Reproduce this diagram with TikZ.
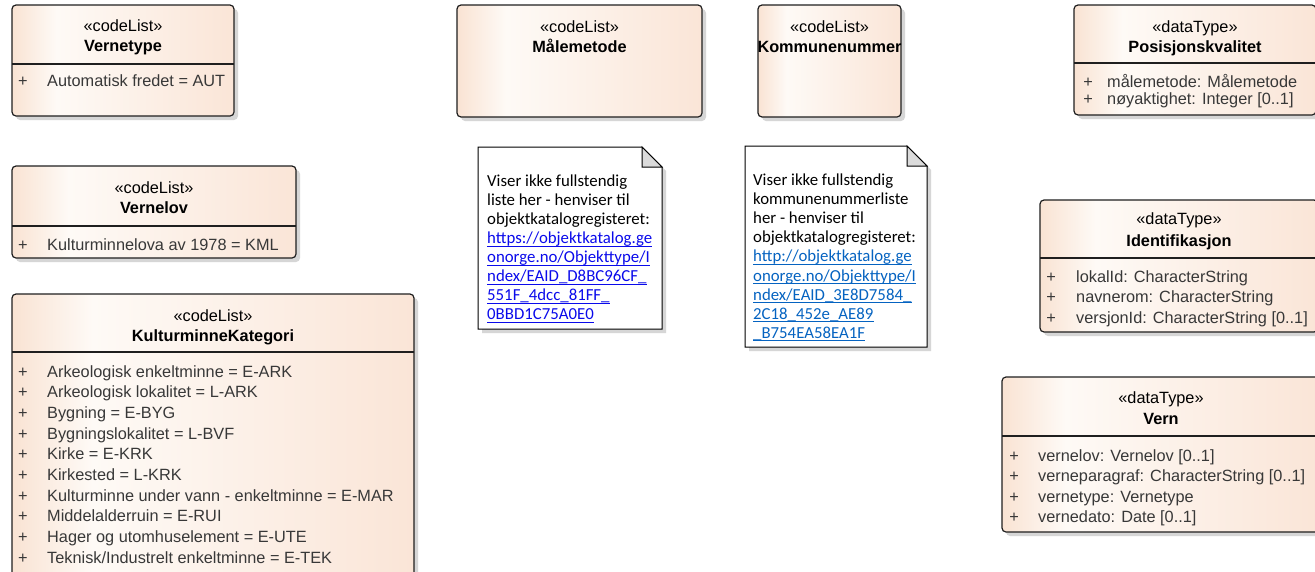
\documentclass[tikz,border=0pt]{standalone}
\usepackage{fontspec}
\setmainfont{Liberation Sans}
\newfontfamily\notefont{Carlito}

\definecolor{peachedge}{RGB}{249,227,211}
\definecolor{peachlight}{RGB}{254,250,246}
\definecolor{peachright}{RGB}{250,229,215}
\definecolor{linkblue}{RGB}{10,10,235}
\definecolor{linkteal}{RGB}{5,99,193}

% left-to-right fill of the class boxes (the box spans 25bp..75bp)
\pgfdeclarehorizontalshading{classfill}{100bp}{color(0bp)=(peachedge); color(25bp)=(peachedge); color(35bp)=(peachlight); color(75bp)=(peachright); color(100bp)=(peachright)}

\tikzset{
  classframe/.style={draw=black!88, line width=1.2pt},
  dropshadow/.style={fill=black!16},
  stereo/.style={anchor=base, inner sep=0pt, font=\fontsize{16.3}{19}\selectfont},
  cname/.style={anchor=base, inner sep=0pt, font=\fontsize{16.3}{19}\selectfont\bfseries},
  attr/.style={anchor=base west, inner sep=0pt, text=black!78, font=\fontsize{16.3}{19}\selectfont},
  vis/.style={anchor=base, inner sep=0pt, text=black!78, font=\fontsize{16.3}{19}\selectfont},
  notetxt/.style={anchor=base west, inner sep=0pt, font=\notefont\fontsize{16.8}{19}\selectfont},
  notelink/.style={notetxt, text=#1},
}

% class box: x1, y1, x2, y2, y of the compartment line
\newcommand\classrect[5]{%
  \fill[dropshadow, rounded corners=4pt] ({#1+4},{#2+4}) rectangle ({#3+4},{#4+4});
  \shadedraw[shading=classfill, classframe, rounded corners=4pt] (#1,#2) rectangle (#3,#4);
  \draw[classframe] (#1,#5) -- (#3,#5);
}

% note sheet with folded corner: x1, y1, x2, y2
\newcommand\notesheet[4]{%
  \fill[dropshadow, shift={(4,4)}] (#1,#2) -- ({#3-20},#2) -- (#3,{#2+20}) -- (#3,#4) -- (#1,#4) -- cycle;
  \filldraw[fill=white, draw=black, line width=1pt] (#1,#2) -- ({#3-20},#2) -- (#3,{#2+20}) -- (#3,#4) -- (#1,#4) -- cycle;
  \filldraw[fill=black!14, draw=black, line width=1pt] ({#3-20},#2) -- ({#3-20},{#2+20}) -- (#3,{#2+20}) -- cycle;
}

% underline below a link line
\newcommand\linkline[2]{%
  \draw[#1, line width=1pt] ([yshift=-2.6pt]#2.base west) -- ([yshift=-2.6pt]#2.base east);
}

\begin{document}
\begin{tikzpicture}[x=1pt, y=-1pt]
\clip (0,0) rectangle (1315,571);
\fill[white] (0,0) rectangle (1315,571);

% ---------- Vernetype ----------
\classrect{12}{5}{234}{116}{64}
\node[stereo] (vt-s) at (123,31.5) {«codeList»};
\node[cname]  (vt-n) at (123,51.5) {Vernetype};
\node[vis]    (vt-p) at (23,86.5) {+};
\node[attr]   (vt-a) at (47,86.5) {Automatisk fredet = AUT};

% ---------- Vernelov ----------
\classrect{12}{166}{296}{258}{226}
\node[stereo] (vl-s) at (154,193) {«codeList»};
\node[cname]  (vl-n) at (154,213) {Vernelov};
\node[vis]    (vl-p) at (23,250) {+};
\node[attr]   (vl-a) at (47,250) {Kulturminnelova av 1978 = KML};

% ---------- KulturminneKategori ----------
\classrect{12}{294}{414}{600}{352}
\node[stereo] (kk-s) at (213,321.5) {«codeList»};
\node[cname]  (kk-n) at (213,341.5) {KulturminneKategori};
\foreach \t [count=\i from 0] in {Arkeologisk enkeltminne = E-ARK, Arkeologisk lokalitet = L-ARK, Bygning = E-BYG, Bygningslokalitet = L-BVF, Kirke = E-KRK, Kirkested = L-KRK, Kulturminne under vann - enkeltminne = E-MAR, Middelalderruin = E-RUI, Hager og utomhuselement = E-UTE, Teknisk/Industrelt enkeltminne = E-TEK}{
  \node[vis]  (kk-p\i) at (23,{377+20.7*\i}) {+};
  \node[attr] (kk-a\i) at (47,{377+20.7*\i}) {\t};
}

% ---------- Målemetode ----------
\fill[dropshadow, rounded corners=4pt] (461,9) rectangle (706,121);
\shadedraw[shading=classfill, classframe, rounded corners=4pt] (457,5) rectangle (702,117);
\node[stereo] (mm-s) at (579.5,32) {«codeList»};
\node[cname]  (mm-n) at (579.5,52) {Målemetode};

% ---------- Kommunenummer ----------
\fill[dropshadow, rounded corners=4pt] (762,9) rectangle (905,121);
\shadedraw[shading=classfill, classframe, rounded corners=4pt] (758,5) rectangle (901,117);
\node[stereo] (kn-s) at (829.5,32) {«codeList»};
\node[cname]  (kn-n) at (829.5,52) {Kommunenummer};

% ---------- Notes ----------
\notesheet{478}{147}{662}{329}
\node[notetxt] (n1-0) at (487,186.5) {Viser ikke fullstendig};
\node[notetxt] (n1-1) at (487,205.5) {liste her - henviser til};
\node[notetxt] (n1-2) at (487,224.5) {objektkatalogregisteret:};
\node[notelink=linkblue] (n1-3) at (487,243.5) {https://objektkatalog.ge};
\node[notelink=linkblue] (n1-4) at (487,262.5) {onorge.no/Objekttype/I};
\node[notelink=linkblue] (n1-5) at (487,281.5) {ndex/EAID\_D8BC96CF\_};
\node[notelink=linkblue] (n1-6) at (487,300.5) {551F\_4dcc\_81FF\_};
\node[notelink=linkblue] (n1-7) at (487,319.5) {0BBD1C75A0E0};
\foreach \k in {3,...,7}{\linkline{linkblue}{n1-\k}}

\notesheet{745}{146}{927}{347}
\node[notetxt] (n2-0) at (753,185.5) {Viser ikke fullstendig};
\node[notetxt] (n2-1) at (753,204.6) {kommunenummerliste};
\node[notetxt] (n2-2) at (753,223.7) {her - henviser til};
\node[notetxt] (n2-3) at (753,242.8) {objektkatalogregisteret:};
\node[notelink=linkteal] (n2-4) at (753,261.9) {http://objektkatalog.ge};
\node[notelink=linkteal] (n2-5) at (753,281.0) {onorge.no/Objekttype/I};
\node[notelink=linkteal] (n2-6) at (753,300.1) {ndex/EAID\_3E8D7584\_};
\node[notelink=linkteal] (n2-7) at (753,319.2) {2C18\_452e\_AE89};
\node[notelink=linkteal] (n2-8) at (753,338.3) {\_B754EA58EA1F};
\foreach \k in {4,...,8}{\linkline{linkteal}{n2-\k}}

% ---------- Posisjonskvalitet ----------
\classrect{1074}{5}{1316}{115}{63}
\node[stereo] (pk-s) at (1195,32.5) {«dataType»};
\node[cname]  (pk-n) at (1195,52) {Posisjonskvalitet};
\node[vis]    (pk-p0) at (1088,87) {+};
\node[attr]   (pk-a0) at (1107,87) {målemetode: Målemetode};
\node[vis]    (pk-p1) at (1088,104.5) {+};
\node[attr]   (pk-a1) at (1107,104.5) {nøyaktighet: Integer [0..1]};

% ---------- Identifikasjon ----------
\classrect{1040}{200}{1318}{332}{258}
\node[stereo] (id-s) at (1179,224) {«dataType»};
\node[cname]  (id-n) at (1179,246.5) {Identifikasjon};
\node[vis]    (id-p0) at (1051,282) {+};
\node[attr]   (id-a0) at (1076,282) {lokalId: CharacterString};
\node[vis]    (id-p1) at (1051,302.5) {+};
\node[attr]   (id-a1) at (1076,302.5) {navnerom: CharacterString};
\node[vis]    (id-p2) at (1051,323) {+};
\node[attr]   (id-a2) at (1076,323) {versjonId: CharacterString [0..1]};

% ---------- Vern ----------
\classrect{1002}{377}{1320}{532}{436}
\node[stereo] (vn-s) at (1161,403) {«dataType»};
\node[cname]  (vn-n) at (1161,424) {Vern};
\node[vis]    (vn-p0) at (1014,461) {+};
\node[attr]   (vn-a0) at (1038,461) {vernelov: Vernelov [0..1]};
\node[vis]    (vn-p1) at (1014,481.5) {+};
\node[attr]   (vn-a1) at (1038,481.5) {verneparagraf: CharacterString [0..1]};
\node[vis]    (vn-p2) at (1014,502) {+};
\node[attr]   (vn-a2) at (1038,502) {vernetype: Vernetype};
\node[vis]    (vn-p3) at (1014,522.5) {+};
\node[attr]   (vn-a3) at (1038,522.5) {vernedato: Date [0..1]};
\end{tikzpicture}
\end{document}
